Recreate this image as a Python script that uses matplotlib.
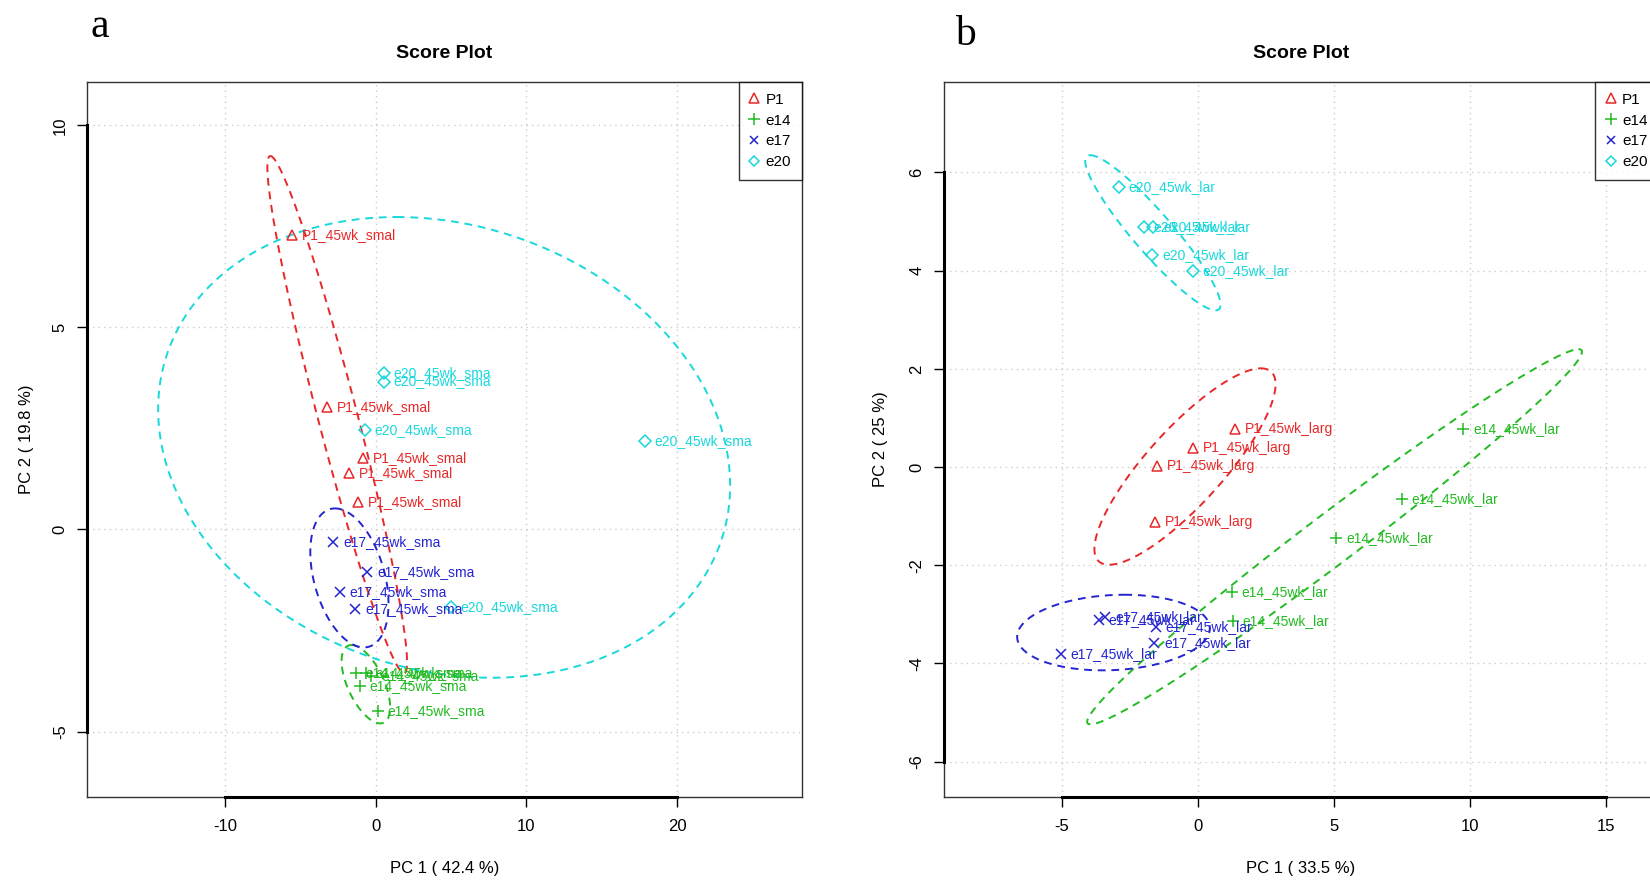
import numpy as np
import matplotlib
matplotlib.use('Agg')
import matplotlib.pyplot as plt
from matplotlib import font_manager
from matplotlib.transforms import blended_transform_factory
from matplotlib.lines import Line2D

names = {f.name for f in font_manager.fontManager.ttflist}
SANS = 'Liberation Sans' if 'Liberation Sans' in names else 'DejaVu Sans'
SERIF = 'Liberation Serif' if 'Liberation Serif' in names else 'DejaVu Serif'
plt.rcParams['font.family'] = [SANS, 'DejaVu Sans']
plt.rcParams['axes.unicode_minus'] = False

# ---------------- data ----------------
groups = ['P1', 'e14', 'e17', 'e20']
colors = {'P1': '#E82828', 'e14': '#22BB22', 'e17': '#2424D0', 'e20': '#18D8DC'}
markers = {'P1': '^', 'e14': '+', 'e17': 'x', 'e20': 'D'}
msizes = {'P1': 7.5, 'e14': 9, 'e17': 6.5, 'e20': 6}

# panel a (small)
a_labels = {'P1': 'P1_45wk_smal', 'e14': 'e14_45wk_sma', 'e17': 'e17_45wk_sma', 'e20': 'e20_45wk_sma'}
a_P1_x = [-5.53, -3.23, -0.84, -1.79, -1.17]
a_P1_y = [7.29, 3.02, 1.77, 1.39, 0.69]
a_e14_x = [-1.30, -0.64, -0.28, -1.04, 0.13]
a_e14_y = [-3.56, -3.56, -3.62, -3.87, -4.49]
a_e17_x = [-2.81, -0.55, -2.37, -1.35]
a_e17_y = [-0.31, -1.06, -1.54, -1.96]
a_e20_x = [0.55, 0.55, -0.73, 17.84, 5.0]
a_e20_y = [3.87, 3.66, 2.45, 2.18, -1.93]
# ellipses (order P1, e14, e17, e20): centre, topmost point, horizontal half-width
a_ell_cx = [-2.55, -0.65, -1.74, 4.54]
a_ell_cy = [2.84, -3.83, -1.20, 2.03]
a_ell_tx = [-6.98, -1.60, -2.70, 1.40]
a_ell_ty = [9.24, -2.86, 0.52, 7.73]
a_ell_w = [1.35, 1.30, 2.41, 18.7]
a_xlim = (-19.12, 28.26)
a_ylim = (-6.61, 11.07)
a_xticks = [-10, 0, 10, 20]
a_yticks = [-5, 0, 5, 10]
a_xlabel = 'PC 1 ( 42.4 %)'
a_ylabel = 'PC 2 ( 19.8 %)'

# panel b (large)
b_labels = {'P1': 'P1_45wk_larg', 'e14': 'e14_45wk_lar', 'e17': 'e17_45wk_lar', 'e20': 'e20_45wk_lar'}
b_P1_x = [1.36, -0.18, -1.49, -1.57]
b_P1_y = [0.78, 0.39, 0.03, -1.11]
b_e14_x = [9.76, 7.50, 5.09, 1.25, 1.28]
b_e14_y = [0.78, -0.65, -1.45, -2.54, -3.14]
b_e17_x = [-3.63, -3.40, -1.54, -1.60, -5.03]
b_e17_y = [-3.12, -3.06, -3.25, -3.58, -3.80]
b_e20_x = [-2.91, -1.99, -1.63, -1.67, -0.18]
b_e20_y = [5.71, 4.88, 4.88, 4.32, 3.99]
b_ell_cx = [-0.47, 5.03, -3.10, -1.65]
b_ell_cy = [0.01, -1.42, -3.37, 4.77]
b_ell_tx = [2.32, 14.0, -2.70, -3.95]
b_ell_ty = [2.01, 2.40, -2.60, 6.35]
b_ell_w = [1.82, 1.52, 3.52, 0.95]
b_xlim = (-9.34, 16.94)
b_ylim = (-6.71, 7.84)
b_xticks = [-5, 0, 5, 10, 15]
b_yticks = [-6, -4, -2, 0, 2, 4, 6]
b_xlabel = 'PC 1 ( 33.5 %)'
b_ylabel = 'PC 2 ( 25 %)'

# ---------------- figure ----------------
fig = plt.figure(figsize=(16.5, 8.8), dpi=100)
ax_a = fig.add_axes([0.0529, 0.0948, 0.4331, 0.812])
ax_b = fig.add_axes([0.5720, 0.0948, 0.4331, 0.812])


def draw_panel(ax, pts, labels, ell, xlim, ylim, xt, yt, xlabel, ylabel, ylab_x):
    ax.set_xlim(*xlim)
    ax.set_ylim(*ylim)
    ax.set_xticks(xt)
    ax.set_yticks(yt)
    ax.set_xticklabels([str(v) for v in xt])
    ax.set_yticklabels([str(v) for v in yt], rotation=90, va='center')
    ax.tick_params(direction='out', length=7, width=1, labelsize=12, pad=9, colors='black')
    ax.tick_params(axis='y', pad=7)
    for v in xt:
        ax.axvline(v, color='#CCCCCC', lw=1, ls=(0, (1, 3)), zorder=0)
    for v in yt:
        ax.axhline(v, color='#CCCCCC', lw=1, ls=(0, (1, 3)), zorder=0)
    for s in ax.spines.values():
        s.set_linewidth(1.0)
        s.set_color('#333333')
    # R style axis lines from first to last tick
    tb = blended_transform_factory(ax.transData, ax.transAxes)
    ax.plot([xt[0], xt[-1]], [0, 0], transform=tb, color='black', lw=2.2, clip_on=False, zorder=5)
    tl = blended_transform_factory(ax.transAxes, ax.transData)
    ax.plot([0, 0], [yt[0], yt[-1]], transform=tl, color='black', lw=2.2, clip_on=False, zorder=5)

    cx, cy, tx, ty, w = ell
    th = np.linspace(0, 2 * np.pi, 300)
    for i, g in enumerate(groups):
        ex = cx[i] + (tx[i] - cx[i]) * np.cos(th) + w[i] * np.sin(th)
        ey = cy[i] + (ty[i] - cy[i]) * np.cos(th)
        ax.plot(ex, ey, color=colors[g], lw=1.4, ls=(0, (4, 3)), zorder=2)

    for g in groups:
        xs, ys = pts[g]
        ax.plot(xs, ys, ls='none', marker=markers[g], ms=msizes[g], mec=colors[g],
                mfc='none', mew=1.1, zorder=3)
        for x, y in zip(xs, ys):
            ax.annotate(labels[g], (x, y), xytext=(7, 0), textcoords='offset points',
                        ha='left', va='center', fontsize=10, color=colors[g], zorder=4)

    ax.set_title('Score Plot', fontsize=14, fontweight='bold', pad=17)
    ax.set_xlabel(xlabel, fontsize=12)
    ax.xaxis.set_label_coords(0.5, -0.1)
    ax.xaxis.label.set_va('center')
    ax.set_ylabel(ylabel, fontsize=12)
    ax.yaxis.set_label_coords(ylab_x, 0.5)
    ax.yaxis.label.set_va('center')

    handles = [Line2D([], [], ls='none', marker=markers[g], ms=msizes[g] * 0.9, mec=colors[g],
                      mfc='none', mew=1.1) for g in groups]
    leg = ax.legend(handles, groups, loc='upper right', fontsize=11, frameon=True, fancybox=False,
                    borderaxespad=0, borderpad=0.7, labelspacing=0.45, handlelength=0.6,
                    handletextpad=0.45)
    leg.get_frame().set_edgecolor('black')
    leg.get_frame().set_linewidth(1.0)


pts_a = {'P1': (a_P1_x, a_P1_y), 'e14': (a_e14_x, a_e14_y), 'e17': (a_e17_x, a_e17_y), 'e20': (a_e20_x, a_e20_y)}
pts_b = {'P1': (b_P1_x, b_P1_y), 'e14': (b_e14_x, b_e14_y), 'e17': (b_e17_x, b_e17_y), 'e20': (b_e20_x, b_e20_y)}

draw_panel(ax_a, pts_a, a_labels, (a_ell_cx, a_ell_cy, a_ell_tx, a_ell_ty, a_ell_w),
           a_xlim, a_ylim, a_xticks, a_yticks, a_xlabel, a_ylabel, -0.085)
draw_panel(ax_b, pts_b, b_labels, (b_ell_cx, b_ell_cy, b_ell_tx, b_ell_ty, b_ell_w),
           b_xlim, b_ylim, b_xticks, b_yticks, b_xlabel, b_ylabel, -0.088)

fig.text(0.0606, 0.958, 'a', fontsize=30, family=SERIF, ha='center', va='baseline')
fig.text(0.585, 0.949, 'b', fontsize=30, family=SERIF, ha='center', va='baseline')

fig.savefig('out.png', dpi=100)
